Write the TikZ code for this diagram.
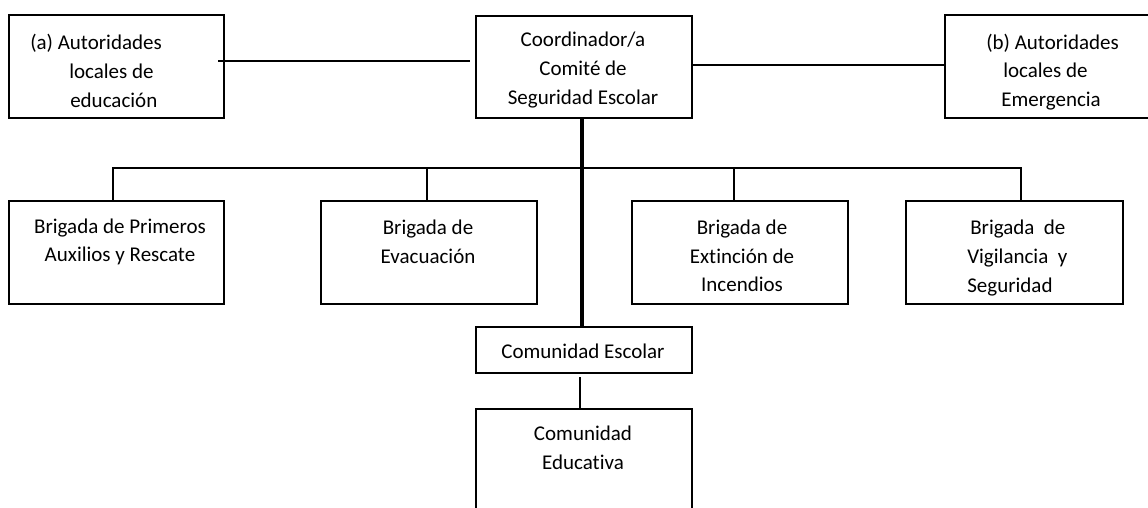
\documentclass[tikz,border=0pt]{standalone}
\usepackage{fontspec}
\setmainfont{Carlito}[Ligatures=NoCommon]
\usetikzlibrary{fit,calc}
\begin{document}
\begin{tikzpicture}[x=0.75pt,y=-0.75pt,
  box/.style={draw, line width=1.5pt, inner sep=0pt, rectangle},
  txt/.style={font=\fontsize{15.75}{21.5}\selectfont, inner sep=0pt, align=center},
  conn/.style={line width=1.4pt},
  trunk/.style={line width=2.6pt}]
\useasboundingbox (0,0) rectangle (1148,507);
\clip (0,0) rectangle (1148,507);
\fill[white] (0,0) rectangle (1148,507);
% boxes
\node[box, fit={(9,15)(224,118)}] (A) {};
\node[box, fit={(476,16)(692,118)}] (C) {};
\node[box, fit={(945,15)(1160,118)}] (B) {};
\node[box, fit={(9,201)(224,304)}] (B1) {};
\node[box, fit={(321,201)(537,304)}] (B2) {};
\node[box, fit={(632,201)(848,304)}] (B3) {};
\node[box, fit={(906,201)(1123,304)}] (B4) {};
\node[box, fit={(476,327)(692,373)}] (CE) {};
\node[box, fit={(476,409)(692,525)}] (CEd) {};
% texts
\node[txt, align=left, anchor=west] (tA) at (30,71) {(a) Autoridades\\\hspace*{29.25pt}locales de\\\hspace*{30pt}educación};
\node[txt] (tC) at (583,70) {Coordinador/a\\Comité de\\Seguridad Escolar};
\node[txt, align=left, anchor=west] (tB) at (986,72) {(b) Autoridades\\\hspace*{12.75pt}locales de\\\hspace*{11.25pt}Emergencia};
\node[txt] (t1) at (120,242) {Brigada de Primeros\\Auxilios y Rescate};
\node[txt] (t2) at (428,242) {Brigada de\\Evacuación};
\node[txt] (t3) at (742,256) {Brigada de\\Extinción de\\Incendios};
\node[txt, align=left, anchor=west] (t4) at (967,258) {\hspace*{2.25pt}Brigada\hspace{0.45em}de\\Vigilancia\hspace{0.45em}y\\Seguridad};
\node[txt] (tCE) at (583,351) {Comunidad Escolar};
\node[txt] (tCEd) at (583,448) {Comunidad\\Educativa};
% connectors
\draw[conn] ($(A.east|-0,61)+(-7,0)$) -- ($(C.west|-0,61)+(-5,0)$);
\draw[conn] (C.east|-0,65) -- (B.west|-0,65);
\draw[trunk] (C.south-|582,0) -- (CE.north-|582,0);
\draw[conn] (B1.north-|113,0) -- (113,168) -- (1021,168) -- (B4.north-|1021,0);
\draw[conn] (B2.north-|427,0) -- (427,168);
\draw[conn] (B3.north-|734,0) -- (734,168);
\draw[conn] ($(CE.south-|580,0)+(0,3)$) -- (CEd.north-|580,0);
\end{tikzpicture}
\end{document}
